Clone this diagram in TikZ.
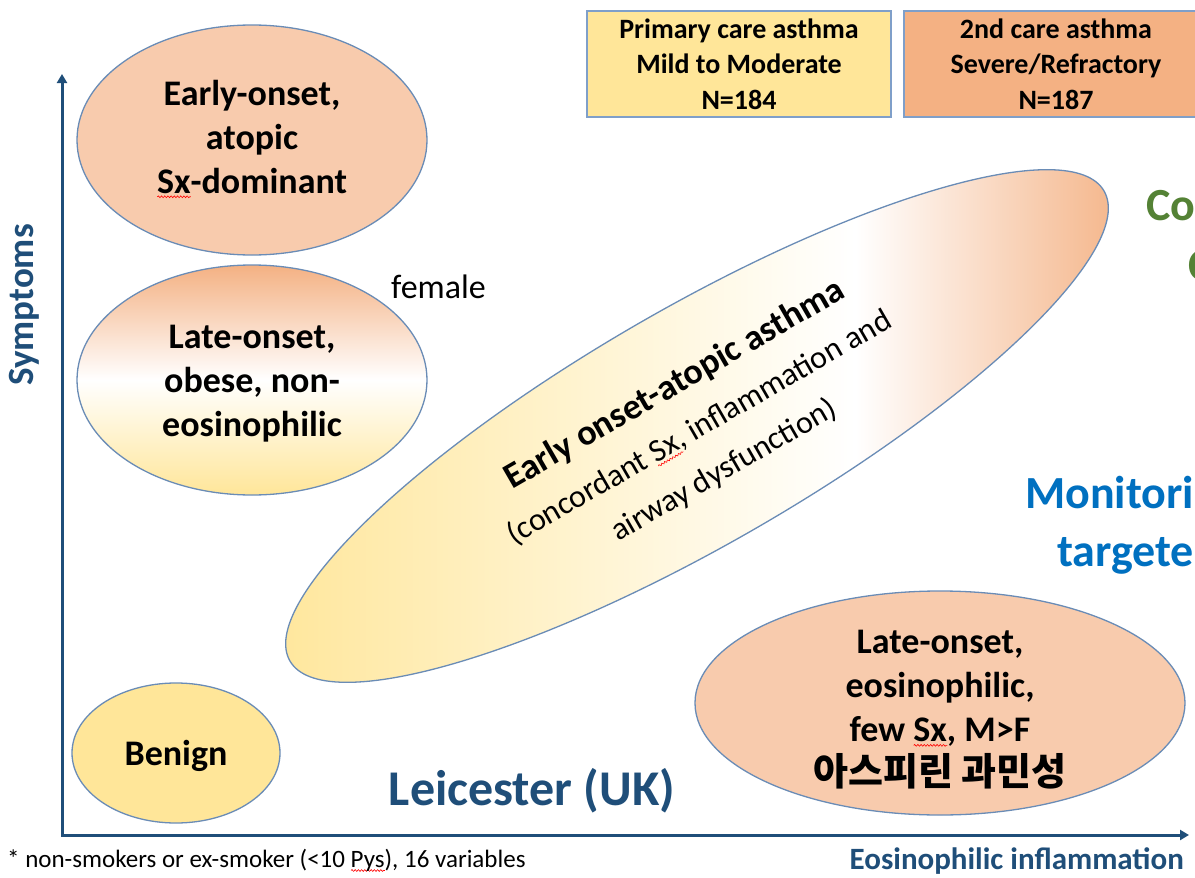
\documentclass[tikz,border=0pt]{standalone}
\usepackage{fontspec}
\setmainfont{Carlito}
\newfontfamily\krfont{Noto Sans CJK KR}
\usetikzlibrary{shapes.geometric,arrows.meta,decorations.pathmorphing}
\definecolor{axisblue}{HTML}{1F4E79}
\definecolor{edge}{HTML}{6A8CB6}
\definecolor{boxedge}{HTML}{7F9FC9}
\definecolor{peach}{HTML}{F8CBAD}
\definecolor{peachdk}{HTML}{F4B183}
\definecolor{gold}{HTML}{FFE699}
\definecolor{grn}{HTML}{548235}
\definecolor{blu}{HTML}{0070C0}
\pgfdeclarehorizontalshading{bigell}{100bp}{color(0bp)=(gold); color(25bp)=(gold); color(59bp)=(white); color(75bp)=(peachdk); color(100bp)=(peachdk)}
\newsavebox\sqbox
\newcommand\sqw[1]{\sbox\sqbox{#1}\rlap{\tikz[baseline=0pt]\draw[red, line width=0.6pt, decorate, decoration={snake, amplitude=0.9pt, segment length=3.2pt}] (0pt,-3.5pt) -- (\the\wd\sqbox,-3.5pt);}\usebox\sqbox}
\begin{document}
\begin{tikzpicture}[x=1pt,y=-1pt,
  ell/.style={ellipse, draw=edge, line width=1.3pt, inner sep=0pt},
  bt/.style={font=\fontsize{36}{44}\selectfont\bfseries, align=center, inner sep=0pt},
  carebox/.style={draw=boxedge, line width=1.5pt, minimum width=304pt, minimum height=106pt, inner sep=0pt, align=center, font=\fontsize{28}{35.5}\selectfont\bfseries},
  axistext/.style={font=\fontsize{37}{42}\selectfont\bfseries, text=axisblue, inner sep=0pt},
  sidetext/.style={anchor=base west, font=\fontsize{46}{52}\selectfont\bfseries, inner sep=0pt}]
\useasboundingbox (0,0) rectangle (1195,878);
\fill[white] (0,0) rectangle (1195,878);

% axes
\coordinate (ytop) at (62,74);
\coordinate (O) at (62,835);
\coordinate (xend) at (1189,835);
\draw[axisblue, line width=3pt, line join=miter, {Triangle[length=9pt,width=10pt]}-{Triangle[length=9pt,width=10pt]}] (ytop) -- (O) -- (xend);

% ellipses
\node[ell, fill=peach, minimum width=350pt, minimum height=230pt] (e1) at (252,140) {};
\node[ell, top color=peachdk, bottom color=gold, middle color=white, minimum width=350pt, minimum height=230pt] (e2) at (252,380) {};
\node[ell, fill=gold, minimum width=208pt, minimum height=140pt] (e3) at (176,753) {};
\node[ell, fill=peach, minimum width=490pt, minimum height=224pt] (e4) at (940,703) {};
\node[ell, shade, shading=bigell, rotate=30, minimum width=940pt, minimum height=236pt] (e5) at (697,426) {};

% ellipse texts
\node[bt] (t1) at (252,139) {Early-onset,\\atopic\\\sqw{Sx}-dominant};
\node[bt] (t2) at (252,384) {Late-onset,\\obese, non-\\eosinophilic};
\node[bt, anchor=base] (t3) at (176,765) {Benign};
\node[bt] (t4) at (940,710) {Late-onset,\\eosinophilic,\\few \sqw{Sx}, M>F\\{\krfont\fontsize{38}{44}\selectfont 아스피린 과민성}};
\node[rotate=30, align=center, inner sep=0pt, font=\fontsize{32}{43}\selectfont] (t5) at (699,427)
  {{\bfseries\fontsize{36}{43}\selectfont Early onset-atopic asthma}\\[6pt](concordant \sqw{Sx}, inflammation and\\[6pt]airway dysfunction)};

% boxes
\node[carebox, fill=gold] (b1) at (739,64) {Primary care asthma\\Mild to Moderate\\N=184};
\node[carebox, fill=peachdk] (b2) at (1056,64) {2nd care asthma\\Severe/Refractory\\N=187};

% labels
\node[anchor=base west, font=\fontsize{34}{40}\selectfont, inner sep=0pt] (fem) at (391,298) {female};
\node[anchor=base, font=\fontsize{50}{56}\selectfont\bfseries, text=axisblue, inner sep=0pt] (lei) at (532,805) {Leicester (UK)};
\node[axistext, rotate=90, anchor=base] (sym) at (34,305) {Symptoms};
\node[axistext, anchor=base east, font=\fontsize{31}{36}\selectfont\bfseries] (xl) at (1184,869) {Eosinophilic inflammation};
\node[anchor=base west, font=\fontsize{25}{30}\selectfont, inner sep=0pt] (fn) at (7,867) {* non-smokers or ex-smoker (<10 \sqw{Pys}), 16 variables};

% clipped right-hand texts
\node[sidetext, text=grn] (g1) at (1146,220) {Co};
\node[sidetext, text=grn] (g2) at (1188,280) {C};
\node[sidetext, text=blu] (m1) at (1025,508) {Monitori};
\node[sidetext, text=blu] (m2) at (1057,566) {targete};
\end{tikzpicture}
\end{document}
